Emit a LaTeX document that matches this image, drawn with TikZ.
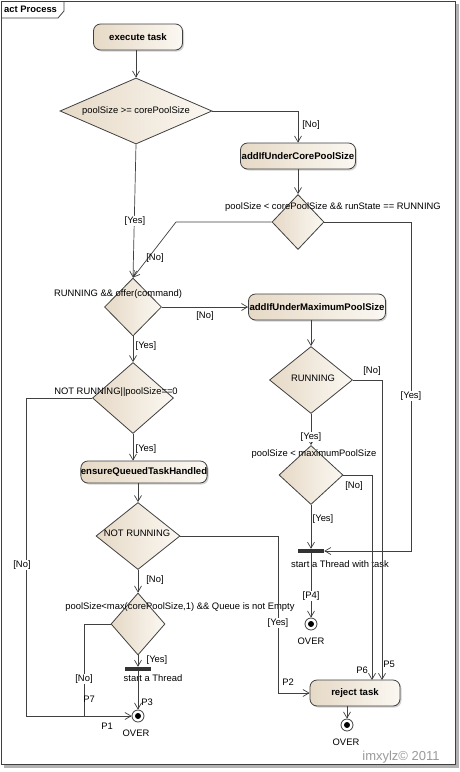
\documentclass[tikz,border=0pt]{standalone}
\usepackage{fontspec}
\setmainfont{Liberation Sans}
\usetikzlibrary{shapes.geometric,arrows.meta,shadows}
\definecolor{beigeL}{HTML}{FBF8F2}
\definecolor{beigeD}{HTML}{E6D9C6}
\definecolor{edge}{HTML}{404040}
\definecolor{wmgray}{HTML}{9A9A9A}
\begin{document}
\begin{tikzpicture}[x=1pt,y=-1pt,
	font=\fontsize{9.4}{11}\selectfont,
	flow/.style={draw=edge,line width=0.7pt,-{Straight Barb[length=6pt,width=7pt]}},
	line/.style={draw=edge,line width=0.7pt},
	act/.style={rectangle,rounded corners=7pt,draw=edge,line width=0.8pt,left color=beigeD,right color=beigeL,
		drop shadow={shadow xshift=1.5pt,shadow yshift=-1.5pt,opacity=0.35},inner sep=0pt,font=\fontsize{9.6}{11}\selectfont\bfseries},
	dec/.style={diamond,draw=edge,line width=0.8pt,left color=beigeD,right color=beigeL,inner sep=0pt},
	bar/.style={rectangle,fill=black!80,minimum width=26pt,minimum height=4pt,inner sep=0pt},
	fin/.style={circle,draw=edge,line width=0.8pt,fill=white,minimum size=12pt,inner sep=0pt,
		path picture={\fill[black] (path picture bounding box.center) circle[radius=3pt];}},
	lbl/.style={fill=white,inner sep=1pt},
	txt/.style={inner sep=1pt}]
	\useasboundingbox (0,0) rectangle (460,772);
	\fill[gray!60] (455,4) rectangle (459,768);
	\fill[gray!60] (4,764) rectangle (459,768);
	\draw[edge,line width=0.8pt,fill=white] (1,1) rectangle (455,764);
	\draw[edge,line width=0.8pt] (1,18) -- (58,18) -- (64,11) -- (64,1);
	\node[txt,anchor=west,font=\fontsize{9.4}{11}\selectfont\bfseries] (title) at (3,9) {act Process};

	\node[act,minimum width=89pt,minimum height=26pt] (exec) at (138,37) {execute task};
	\node[dec,minimum width=152pt,minimum height=66pt] (d1) at (136,111) {};
	\node[txt] (t1) at (136,111) {poolSize >= corePoolSize};
	\node[act,minimum width=115pt,minimum height=26pt] (core) at (298,156) {addIfUnderCorePoolSize};
	\node[dec,minimum width=52pt,minimum height=55pt] (d2) at (298,222) {};
	\node[txt] (t2) at (333,207) {poolSize < corePoolSize \&\& runState == RUNNING};
	\node[dec,minimum width=57pt,minimum height=58pt] (d3) at (133,307) {};
	\node[txt] (t3) at (118,294) {RUNNING \&\& offer(command)};
	\node[act,minimum width=137pt,minimum height=26pt] (max) at (317,307) {addIfUnderMaximumPoolSize};
	\node[dec,minimum width=83pt,minimum height=67pt] (dRun) at (311,380) {};
	\node[txt] (tRun) at (313,378) {RUNNING};
	\node[dec,minimum width=64pt,minimum height=59pt] (dMax) at (311,475) {};
	\node[txt] (tMax) at (314,454) {poolSize < maximumPoolSize};
	\node[bar] (fork1) at (311,551) {};
	\node[txt] (tFork1) at (340,564) {start a Thread with task};
	\node[fin] (overT) at (311,624) {};
	\node[txt] (tOverT) at (311,641) {OVER};
	\node[dec,minimum width=81pt,minimum height=71pt] (d4) at (133,398) {};
	\node[txt] (t4) at (116,392) {NOT RUNNING||poolSize==0};
	\node[act,minimum width=126pt,minimum height=22pt] (ensure) at (144,472) {ensureQueuedTaskHandled};
	\node[dec,minimum width=84pt,minimum height=67pt] (dNot) at (138,536) {};
	\node[txt] (tNot) at (137,533) {NOT RUNNING};
	\node[dec,minimum width=54pt,minimum height=62pt] (dQ) at (138,624) {};
	\node[txt] (tQ) at (180,607) {poolSize<max(corePoolSize,1) \&\& Queue is not Empty};
	\node[bar] (fork2) at (138,669) {};
	\node[txt] (tFork2) at (153,678) {start a Thread};
	\node[fin] (overL) at (138,716) {};
	\node[txt] (tOverL) at (136,733) {OVER};
	\node[act,minimum width=90pt,minimum height=26pt] (reject) at (355,693) {reject task};
	\node[fin] (overR) at (347,725) {};
	\node[txt] (tOverR) at (346,742) {OVER};

	\coordinate (k1) at (176,222);
	\coordinate (k2) at (411,551);
	\coordinate (k3) at (26,716);
	\coordinate (k4) at (278,693);
	\coordinate (k5) at (84,716);
	\coordinate (r5) at (382,680);
	\coordinate (r6) at (372,680);

	\draw[flow] (d1.north |- exec.south) -- (d1.north);
	\draw[flow] (d1.east) -| (core.north);
	\draw[flow] (core.south) -- (d2.north);
	\draw[flow] (d2.west) -- (k1) -- (d3.north);
	\draw[flow] (d2.east) -| (k2) -- (fork1.east);
	\draw[flow] (d1.south) -- (d3.north);
	\draw[flow] (d3.east) -- (max.west);
	\draw[flow] (dRun.north |- max.south) -- (dRun.north);
	\draw[flow] (dRun.east) -| (r5);
	\draw[flow] (dRun.south) -- (dMax.north);
	\draw[flow] (dMax.east) -| (r6);
	\draw[flow] (dMax.south) -- (fork1.north);
	\draw[flow] (fork1.south) -- (overT.north);
	\draw[flow] (d3.south) -- (d4.north);
	\draw[flow] (d4.west) -| (k3) -- (overL.west);
	\draw[flow] (d4.south) -- (d4.south |- ensure.north);
	\draw[flow] (dNot.north |- ensure.south) -- (dNot.north);
	\draw[flow] (dNot.east) -| (k4) -- (reject.west);
	\draw[flow] (dNot.south) -- (dQ.north);
	\draw[line] (dQ.west) -| (k5);
	\draw[flow] (dQ.south) -- (fork2.north);
	\draw[flow] (fork2.south) -- (overL.north);
	\draw[flow] (overR.north |- reject.south) -- (overR.north);

	\node[txt] (lNo1) at (311,125) {[No]};
	\node[lbl] (lYes1) at (135,221) {[Yes]};
	\node[txt] (lNo2) at (155,258) {[No]};
	\node[lbl] (lYes2) at (411,396) {[Yes]};
	\node[txt] (lNo3) at (205,316) {[No]};
	\node[txt] (lNo4) at (372,371) {[No]};
	\node[lbl] (lYes3) at (311,437) {[Yes]};
	\node[txt] (lNo5) at (354,486) {[No]};
	\node[txt] (lYes4) at (323,519) {[Yes]};
	\node[lbl] (lP4) at (311,596) {[P4]};
	\node[txt] (lYes5) at (146,346) {[Yes]};
	\node[txt] (lYes6) at (146,449) {[Yes]};
	\node[lbl] (lNo6) at (22,565) {[No]};
	\node[txt] (lP1) at (107,726) {P1};
	\node[lbl] (lYes7) at (278,623) {[Yes]};
	\node[txt] (lP2) at (288,682) {P2};
	\node[txt] (lNo7) at (155,580) {[No]};
	\node[lbl] (lNo8) at (84,679) {[No]};
	\node[txt] (lP7) at (89,699) {P7};
	\node[txt] (lYes8) at (157,660) {[Yes]};
	\node[txt] (lP3) at (147,702) {P3};
	\node[txt] (lP6) at (362,670) {P6};
	\node[txt] (lP5) at (389,664) {P5};
	\node[text=wmgray,font=\fontsize{13}{15}\selectfont] (wm) at (401,757) {imxylz© 2011};
\end{tikzpicture}
\end{document}
